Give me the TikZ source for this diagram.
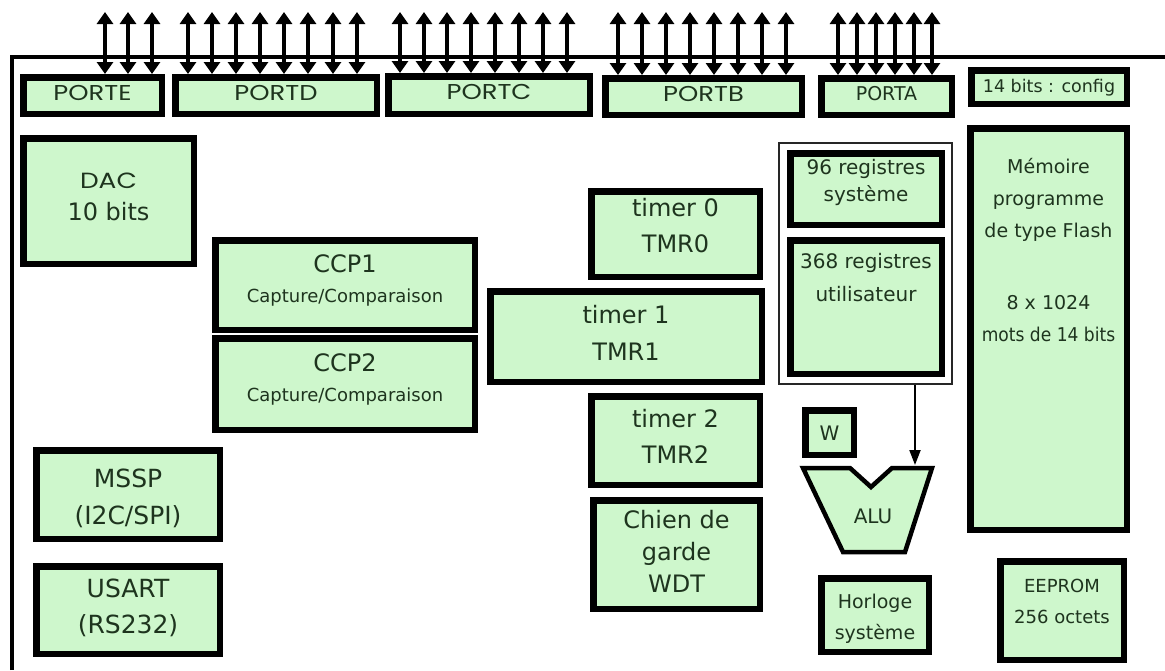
\documentclass[tikz,border=0pt]{standalone}
\usepackage{fontspec}
\setmainfont{DejaVu Sans}
\newfontfamily\geo[FakeStretch=1.2]{Poppins}
\newfontfamily\narrow[FakeStretch=0.9]{DejaVu Sans}
\usetikzlibrary{arrows.meta,fit}
\definecolor{boxfill}{RGB}{206,247,204}
\definecolor{txt}{RGB}{30,52,30}
% #1 name, #2-#5 outer edges, #6 font, #7 text, #8 downward text shift
\newcommand\bx[8]{\node[box,fit={({#2+3.25},{#3+3.25}) ({#4-3.25},{#5-3.25})},
  label={[lbl,font=#6,yshift=-#8pt]center:{#7}}] (#1) {};}
\begin{document}
\begin{tikzpicture}[x=1pt,y=-1pt,
  box/.style={draw=black, line width=6.5pt, fill=boxfill, inner sep=0pt},
  lbl/.style={text=txt, align=center, inner sep=0pt},
  pin/.style={line width=3.8pt, {Triangle[width=16pt,length=12pt]}-{Triangle[width=16pt,length=12pt]}},
  flow/.style={line width=2pt, -{Triangle[width=11pt,length=15pt]}},
  frame/.style={line width=3.5pt}]
\fill[white] (0,0) rectangle (1165,670);
\useasboundingbox (0,0) rectangle (1165,670);

% outer frame of the chip
\draw[frame] (12,670) -- (12,57) -- (1165,57);

% ports
\bx{porte}{20}{74}{165}{117}{\geo\fontsize{21.5}{24}\selectfont}{PORTE}{-3}
\bx{portd}{172}{74}{380}{117}{\geo\fontsize{21.5}{24}\selectfont}{PORTD}{-3}
\bx{portc}{385}{73}{593}{117}{\geo\fontsize{21.5}{24}\selectfont}{PORTC}{-3}
\bx{portb}{602}{75}{805}{118}{\geo\fontsize{21.5}{24}\selectfont}{PORTB}{-3}
\bx{porta}{818}{75}{955}{118}{\fontsize{19}{22}\selectfont}{PORTA}{-3}
\bx{config}{968}{67}{1130}{107}{\fontsize{17.5}{20}\selectfont}{14 bits : config}{1}

% pins
\foreach \x in {105,128,152} \draw[pin] (\x,12) -- (porte.north -| \x,0);
\foreach \x in {188,212,236,260,284,308,333,357} \draw[pin] (\x,12) -- (portd.north -| \x,0);
\foreach \x in {400,424,447,471,495,519,543,567} \draw[pin] (\x,12) -- (portc.north -| \x,0);
\foreach \x in {618,642,666,690,714,738,762,786} \draw[pin] (\x,12) -- (portb.north -| \x,0);
\foreach \x in {838,857,876,895,914,932} \draw[pin] (\x,12) -- (porta.north -| \x,0);

% peripherals
\bx{dac}{20}{135}{197}{267}{\fontsize{24}{32}\selectfont}{{\geo\fontsize{22}{24}\selectfont DAC}\\10 bits}{-4}
\bx{ccp1}{212}{237}{478}{333}{\fontsize{24}{30}\selectfont}{CCP1\\{\fontsize{18}{20}\selectfont Capture/Comparaison}}{-5}
\bx{ccp2}{212}{335}{478}{433}{\fontsize{24}{30}\selectfont}{CCP2\\{\fontsize{18}{20}\selectfont Capture/Comparaison}}{-5}
\bx{tmr0}{588}{188}{763}{280}{\fontsize{24}{36}\selectfont}{timer 0\\TMR0}{-8}
\bx{tmr1}{487}{288}{765}{385}{\fontsize{24}{37}\selectfont}{timer 1\\TMR1}{-4}
\bx{tmr2}{588}{393}{763}{488}{\fontsize{24}{36}\selectfont}{timer 2\\TMR2}{-4}
\bx{wdt}{590}{497}{763}{612}{\fontsize{24}{32}\selectfont}{Chien de\\garde\\WDT}{-3}
\bx{mssp}{33}{447}{223}{542}{\fontsize{25}{37}\selectfont}{MSSP\\(I2C/SPI)}{4}
\bx{usart}{33}{563}{223}{657}{\fontsize{25}{36}\selectfont}{USART\\(RS232)}{-2}

% registers
\node[draw=black!85, line width=2.5pt, fill=white, inner sep=0pt, fit={(779,143) (952,384)}] (regs) {};
\node[box,fit={(790.25,153.25) (941.75,224.75)},
  label={[lbl,anchor=north,yshift=-9pt,font=\fontsize{20}{27}\selectfont]north:{96 registres\\système}}] (reg96) {};
\node[box,fit={(790.25,240.25) (941.75,373.75)},
  label={[lbl,anchor=north,yshift=-16pt,font=\fontsize{20}{33}\selectfont]north:{368 registres\\utilisateur}}] (reg368) {};

% program memory
\node[box,fit={(970.25,128.25) (1126.75,529.75)},
  label={[lbl,anchor=north,yshift=-33pt,font=\fontsize{19}{32}\selectfont]north:{Mémoire\\programme\\de type Flash\\[40pt]8 x 1024\\{\narrow mots de 14 bits}}}] (flash) {};

% W, ALU, clock, EEPROM
\bx{w}{802}{407}{857}{458}{\fontsize{20}{24}\selectfont}{W}{1}
\draw[line width=4.5pt, fill=boxfill, line join=miter]
  (803,468) -- (850,468) -- (871,487) -- (892,468) -- (932,468) -- (905,552) -- (843,552) -- cycle;
\node[lbl, font=\fontsize{20}{24}\selectfont] (alu) at (873,516) {ALU};
\coordinate (alutop) at (915,465);
\draw[flow] (regs.south -| alutop) -- (alutop);
\bx{clk}{818}{575}{932}{655}{\fontsize{19}{31}\selectfont}{Horloge\\système}{4}
\bx{eeprom}{997}{558}{1127}{663}{\fontsize{18}{31}\selectfont}{EEPROM\\256 octets}{-9}
\end{tikzpicture}
\end{document}
